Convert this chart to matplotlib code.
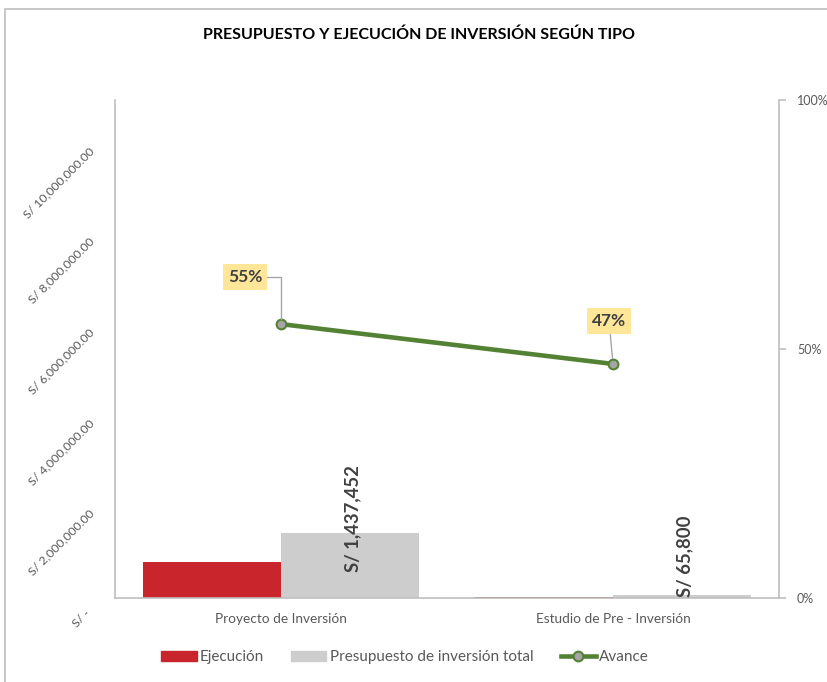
import matplotlib
matplotlib.use("Agg")
import matplotlib.pyplot as plt
import matplotlib.patches as mpatches
import matplotlib.transforms as mtransforms
from matplotlib.lines import Line2D
from matplotlib.ticker import FuncFormatter, PercentFormatter
import numpy as np

plt.rcParams['font.family'] = ['Lato', 'DejaVu Sans']

categories = ["Proyecto de Inversión", "Estudio de Pre - Inversión"]
ejecucion = [790000, 31000]
presupuesto = [1437452, 65800]
avance = [0.55, 0.47]
presupuesto_labels = ["S/ 1,437,452", "S/ 65,800"]
avance_labels = ["55%", "47%"]
left_ticks = [0, 2000000, 4000000, 6000000, 8000000, 10000000]

RED = "#C9252C"
GRAY = "#CDCDCD"
GREEN = "#548235"
TXT = "#595959"
AX = "#BFBFBF"

W, H = 828, 682
fig = plt.figure(figsize=(W / 100, H / 100), dpi=100)
ax = fig.add_axes([115 / W, 1 - 598 / H, (779 - 115) / W, (598 - 100) / H])

# figure border
fig.patches.append(mpatches.Rectangle((5 / W, -0.05), 1.1, 1 - 9 / H + 0.05,
                                      transform=fig.transFigure, fill=False,
                                      edgecolor=AX, lw=1.2))

x = np.arange(len(categories))
bw = 0.416
ax.bar(x - bw / 2, ejecucion, bw, color=RED, label="Ejecución", zorder=2)
bars = ax.bar(x + bw / 2, presupuesto, bw, color=GRAY,
              label="Presupuesto de inversión total", zorder=2)

ax.set_xlim(-0.5, 1.5)
ax.set_ylim(0, 11000000)
ax.set_yticks(left_ticks)


def money(v, pos):
    if v == 0:
        return "S/ -"
    return "S/ {:,.2f}".format(v)


ax.yaxis.set_major_formatter(FuncFormatter(money))
ax.tick_params(axis='y', length=0, pad=4, labelsize=8.8, labelcolor=TXT)
for i, lab in enumerate(ax.get_yticklabels()):
    dy = -14 if i == 0 else -4
    dx = -21 if i == 0 else -17
    shift = mtransforms.ScaledTranslation(dx / 100, dy / 100, fig.dpi_scale_trans)
    lab.set_rotation(45)
    lab.set_rotation_mode('anchor')
    lab.set_ha('right')
    lab.set_va('center')
    lab.set_transform(lab.get_transform() + shift)

ax.set_xticks(x)
ax.set_xticklabels(categories)
ax.tick_params(axis='x', length=0, pad=11, labelsize=9.8, labelcolor=TXT)

for s in ['top', 'right']:
    ax.spines[s].set_visible(False)
for s in ['left', 'bottom']:
    ax.spines[s].set_color(AX)
    ax.spines[s].set_linewidth(1.2)

# data labels on presupuesto bars
offsets = [-39, -2]
for b, lab, off in zip(bars, presupuesto_labels, offsets):
    ax.annotate(lab, (b.get_x() + b.get_width() / 2, b.get_height()),
                xytext=(3, off), textcoords='offset pixels', rotation=90,
                ha='center', va='bottom', fontsize=13.3, fontweight='bold',
                color="#404040", zorder=5)

ax2 = ax.twinx()
ax2.set_ylim(0, 1)
ax2.set_yticks([0, 0.5, 1])
ax2.yaxis.set_major_formatter(PercentFormatter(1.0, decimals=0))
ax2.tick_params(axis='y', length=5, width=1.2, color=AX, pad=8,
                labelsize=9, labelcolor=TXT, direction='out')
for s in ['top', 'left', 'bottom']:
    ax2.spines[s].set_visible(False)
ax2.spines['right'].set_color(AX)
ax2.spines['right'].set_linewidth(1.2)

ax2.plot(x, avance, color=GREEN, lw=3.3, marker='o', markersize=7,
         markerfacecolor="#A5A5A5", markeredgecolor=GREEN, markeredgewidth=1.5,
         label="Avance", zorder=4, solid_capstyle='round')

lab_offsets = [(-36, 47), (-4, 43)]
conn = ['angle,angleA=0,angleB=90,rad=0', 'arc3']
for xi, v, lab, off, cs in zip(x, avance, avance_labels, lab_offsets, conn):
    ax2.annotate(lab, (xi, v), xytext=off, textcoords='offset pixels',
                 ha='center', va='center', fontsize=12.5, fontweight='bold',
                 color="#404040",
                 bbox=dict(boxstyle='square,pad=0.3', fc="#FFE699", ec='none'),
                 arrowprops=dict(arrowstyle='-', color="#A6A6A6", lw=1,
                                 connectionstyle=cs, shrinkA=0, shrinkB=4),
                 zorder=6)

fig.text(419 / W, 1 - 35 / H, "PRESUPUESTO Y EJECUCIÓN DE INVERSIÓN SEGÚN TIPO",
         ha='center', va='center', fontsize=11.5, fontweight='bold', color='black')

handles = [mpatches.Patch(color=RED, label="Ejecución"),
           mpatches.Patch(color=GRAY, label="Presupuesto de inversión total"),
           Line2D([0], [0], color=GREEN, lw=3.3, marker='o', markersize=7,
                  markerfacecolor="#A5A5A5", markeredgecolor=GREEN,
                  markeredgewidth=1.5, label="Avance")]
leg = fig.legend(handles=handles, loc='center', bbox_to_anchor=(405 / W, 1 - 657 / H),
                 ncol=3, frameon=False, fontsize=11, handlelength=2.3,
                 handleheight=0.65, handletextpad=0.2, columnspacing=1.8,
                 labelcolor=TXT)

fig.savefig("out.png", dpi=100)
